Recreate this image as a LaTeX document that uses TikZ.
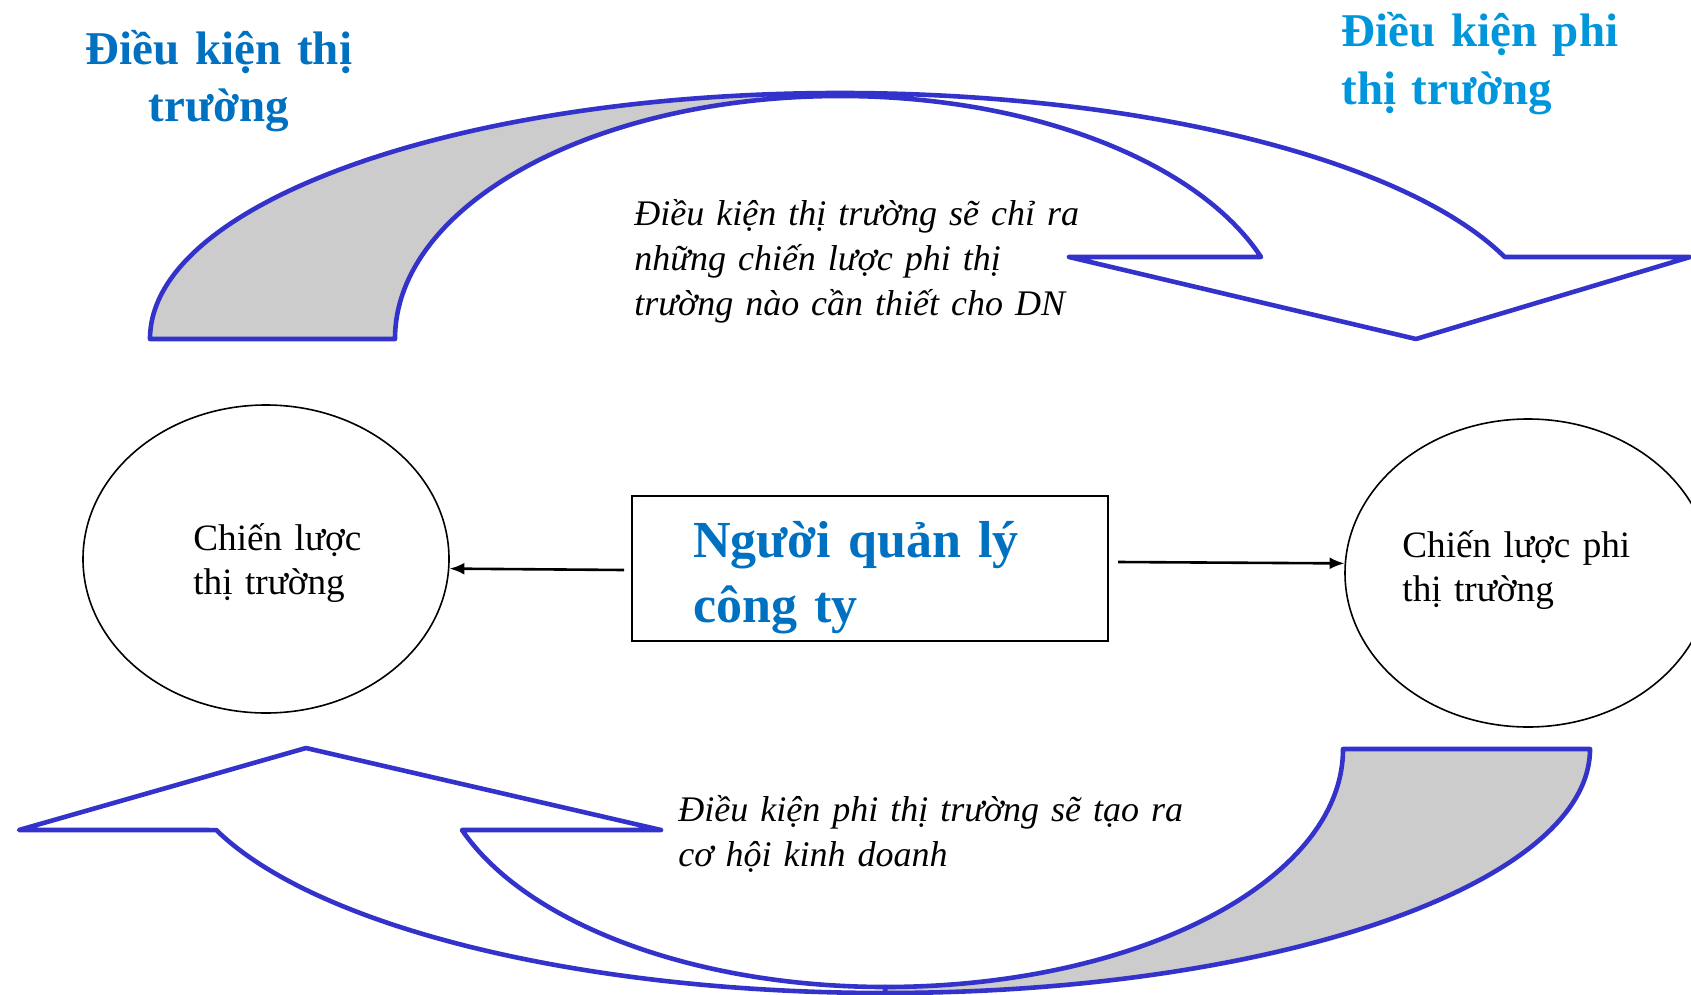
\documentclass[tikz,border=0pt]{standalone}
\usepackage{fontspec}
\setmainfont{Liberation Serif}
\usetikzlibrary{shapes,arrows,arrows.meta,calc}
\definecolor{ribbonblue}{RGB}{51,51,204}
\definecolor{backgrey}{RGB}{204,204,204}
\definecolor{headblue}{RGB}{0,112,192}
\definecolor{lightblue}{RGB}{0,150,220}
\tikzstyle{line} = [draw, line width=1.3pt, -{Latex[length=7.5pt,width=6pt]}]
\tikzstyle{ribbon} = [draw=ribbonblue, line width=2.3pt, line join=round]
\tikzstyle{strat} = [draw, ellipse, line width=0.8pt, minimum width=183pt, minimum height=154pt, inner sep=0pt]
\tikzstyle{strattext} = [inner sep=0pt, anchor=base west, align=left, font=\fontsize{18.6}{22}\selectfont]
\tikzstyle{heading} = [inner sep=0pt, font=\bfseries\fontsize{23.5}{28.5}\selectfont]
\tikzstyle{note} = [inner sep=0pt, anchor=base west, align=left, font=\itshape\fontsize{18}{22.6}\selectfont]
\tikzstyle{block} = [draw, rectangle, line width=1pt, minimum width=238pt, minimum height=72.5pt, inner xsep=30.5pt, inner ysep=0pt, text width=177pt, text height=24pt, text depth=35.5pt, align=left, text=headblue, font=\bfseries\fontsize{26}{32.5}\selectfont]

\begin{document}
\begin{tikzpicture}[x=0.5pt, y=0.5pt]
    \useasboundingbox (0,0) rectangle (1691,-995);
    \path[ribbon, fill=backgrey] (150,-339) arc[start angle=180, end angle=90, x radius=690, y radius=246] -- (840,-96) arc[start angle=90, end angle=180, x radius=445, y radius=243] -- cycle;
    \path[ribbon, fill=white] (840,-93) arc[start angle=90, end angle=19.47, x radius=705, y radius=246] -- (1690,-257) -- (1416,-339) -- (1069,-257) -- (1261,-257) arc[start angle=19.72, end angle=90, x radius=447, y radius=243] -- cycle;
    \path[ribbon, fill=backgrey] (1343,-749) -- (1590,-749) arc[start angle=0, end angle=-90, x radius=705, y radius=244] -- (885,-987) arc[start angle=-90, end angle=0, x radius=458, y radius=238] -- cycle;
    \path[ribbon, fill=white] (885,-993) arc[start angle=-90, end angle=-160.6, x radius=709, y radius=244] -- (19,-830) -- (306,-748) -- (661,-830) -- (462,-830) arc[start angle=-160.1, end angle=-90, x radius=450, y radius=238] -- cycle;
    \node[heading, text=headblue, text width=150pt, align=center, anchor=base] (mktcond) at (219,-65) {Điều kiện thị\\trường};
    \node[heading, text=lightblue, text width=150pt, align=left, anchor=base west] (nonmktcond) at (1341,-47) {Điều kiện phi\\thị trường};
    \node[note, text width=232pt] (topnote) at (634,-225) {Điều kiện thị trường sẽ chỉ ra\\những chiến lược phi thị\\trường nào cần thiết cho DN};
    \node[note, text width=265pt] (botnote) at (678,-821) {Điều kiện phi thị trường sẽ tạo ra\\cơ hội kinh doanh};
    \node[strat] (mktstrat) at (266,-559) {};
    \node[strat] (nonmktstrat) at (1528,-573) {};
    \node[strattext, text width=100pt] (mkttext) at (193,-550) {Chiến lược\\thị trường};
    \node[strattext, text width=130pt] (nonmkttext) at (1402,-557) {Chiến lược phi\\thị trường};
    \node[block] (manager) at (870,-568.5) {Người quản lý\\công ty};
    \coordinate (mgrleft) at ($(manager.west)+(-7,-1.5)$);
    \coordinate (mgrright) at ($(manager.east)+(9,6.5)$);
    \path[line] (mgrleft) -- (mktstrat.-3);
    \path[line] (mgrright) -- (nonmktstrat.177);
\end{tikzpicture}
\end{document}
